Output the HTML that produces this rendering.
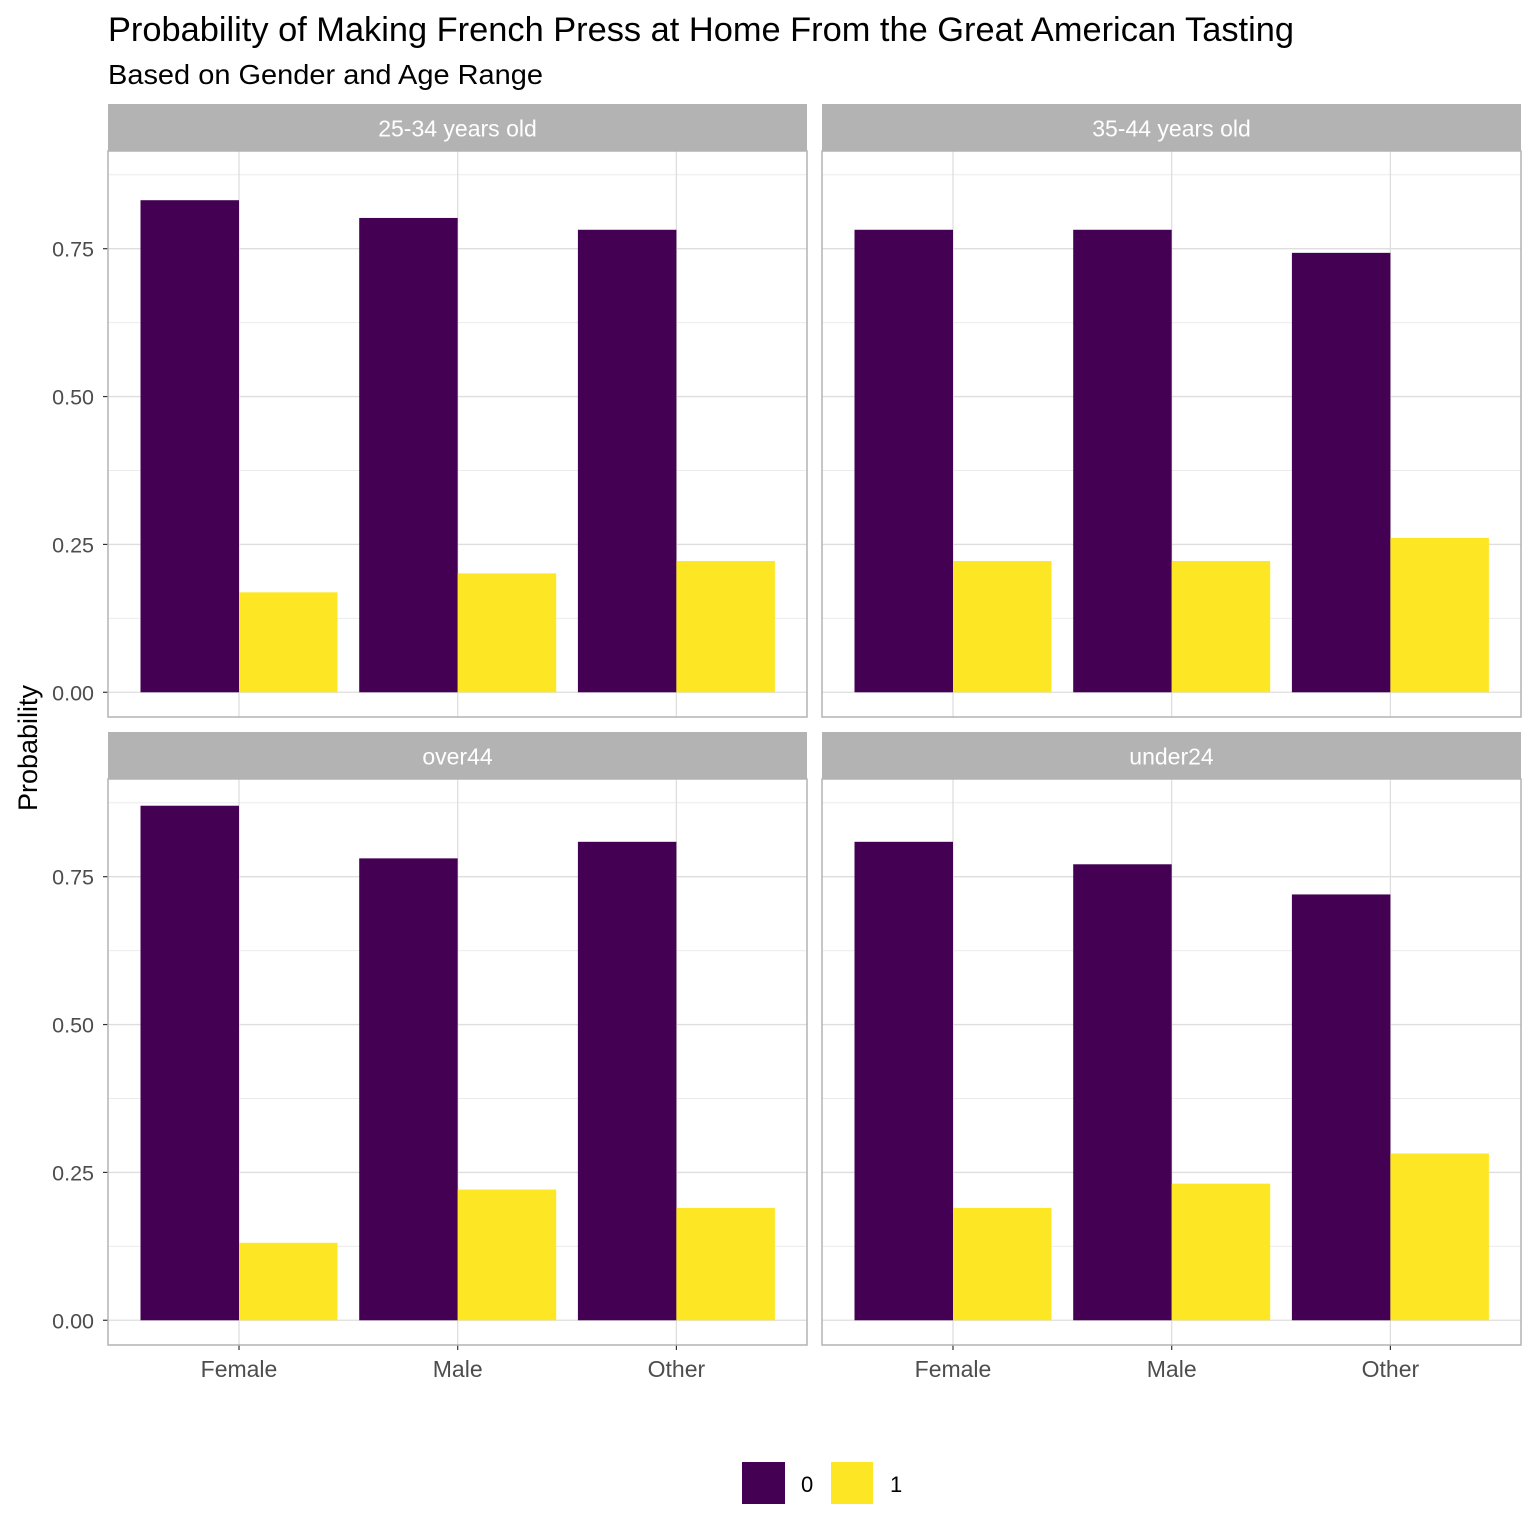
<!DOCTYPE html>
<html><head><meta charset="utf-8">
<style>
html,body{margin:0;padding:0;background:#fff;}
svg{display:block;font-family:"Liberation Sans",Arial,sans-serif;}
</style></head>
<body>
<svg id="chart" width="1536" height="1536" viewBox="0 0 1536 1536" xmlns="http://www.w3.org/2000/svg">
<rect width="1536" height="1536" fill="#fff"/>
<text x="108" y="41" font-size="34" textLength="1186" lengthAdjust="spacingAndGlyphs" fill="#000">Probability of Making French Press at Home From the Great American Tasting</text>
<text x="108" y="84" font-size="28" textLength="435" lengthAdjust="spacingAndGlyphs" fill="#000">Based on Gender and Age Range</text>
<text transform="translate(37,748) rotate(-90)" text-anchor="middle" font-size="27" fill="#000">Probability</text>
<g id="panels"></g>
<g>
<rect x="742" y="1462" width="43" height="42" fill="#440154"/>
<text x="801" y="1492" font-size="22" fill="#000">0</text>
<rect x="831" y="1462" width="42" height="42" fill="#FDE725"/>
<text x="890" y="1492" font-size="22" fill="#000">1</text>
</g>
</svg>
<script>
const panelTitles = ["25-34 years old","35-44 years old","over44","under24"];
const categories = ["Female","Male","Other"];
const series0 = [[0.832,0.802,0.782],[0.782,0.782,0.743],[0.870,0.781,0.809],[0.809,0.771,0.720]];
const series1 = [[0.169,0.201,0.222],[0.222,0.222,0.261],[0.131,0.221,0.190],[0.190,0.231,0.282]];
const yTicks = [0,0.25,0.5,0.75];
const yTickLabels = ["0.00","0.25","0.50","0.75"];
const yMinor = [0.125,0.375,0.625,0.875];

const NS="http://www.w3.org/2000/svg";
const g=document.getElementById('panels');
function mk(tag,attrs,parent){const e=document.createElementNS(NS,tag);for(const k in attrs)e.setAttribute(k,attrs[k]);(parent||g).appendChild(e);return e;}
const layout=[{x:108,y:104},{x:822,y:104},{x:108,y:732},{x:822,y:732}];
const PW=699, SH=47, PH=566, YMIN=-0.0435, YMAX=0.9135;
panelTitles.forEach((t,p)=>{
  const L=layout[p], top=L.y+SH, bot=top+PH;
  const ys=v=>bot+1-(v-YMIN)/(YMAX-YMIN)*PH;
  const pg=mk('g',{});
  
  
  const strip=mk('rect',{x:L.x,y:L.y,width:PW,height:SH,fill:'#b3b3b3'},pg);
  
  
  const st=mk('text',{x:L.x+PW/2,y:L.y+SH/2+9,'text-anchor':'middle','font-size':'23',fill:'#fff'},pg);
  st.textContent=t;
  
  
  yMinor.forEach(v=>{const l=mk('line',{x1:L.x,x2:L.x+PW,y1:ys(v),y2:ys(v),stroke:'#ebebeb','stroke-width':1},pg);});
  yTicks.forEach((v,i)=>{const l=mk('line',{x1:L.x,x2:L.x+PW,y1:ys(v),y2:ys(v),stroke:'#dedede','stroke-width':1.3},pg);
    if(L.x<500){const tx=mk('text',{x:L.x-14,y:ys(v)+8,'text-anchor':'end','font-size':'21.5',fill:'#4d4d4d'},pg);tx.textContent=yTickLabels[i];
      mk('line',{x1:L.x-5,x2:L.x,y1:ys(v),y2:ys(v),stroke:'#333','stroke-width':1.2},pg);}
  });
  const bw=98.5;
  categories.forEach((c,i)=>{
    const cx=L.x+131+i*218.7;
    const vl=mk('line',{x1:cx,x2:cx,y1:top,y2:bot,stroke:'#dedede','stroke-width':1.3},pg);
    
    
    const b0=mk('rect',{x:cx-bw,y:ys(series0[p][i]),width:bw,height:ys(0)-ys(series0[p][i]),fill:'#440154'},pg);
    
    
    const b1=mk('rect',{x:cx,y:ys(series1[p][i]),width:bw,height:ys(0)-ys(series1[p][i]),fill:'#FDE725'},pg);
    
    
    if(p>=2){const tx=mk('text',{x:cx,y:bot+32,'text-anchor':'middle','font-size':'23',fill:'#4d4d4d'},pg);tx.textContent=c;
      mk('line',{x1:cx,x2:cx,y1:bot,y2:bot+5,stroke:'#333','stroke-width':1.2},pg);}
  });
  const bd=mk('rect',{x:L.x,y:top,width:PW,height:PH,fill:'none',stroke:'#b3b3b3','stroke-width':1.5},pg);
  
  
});
</script>
</body></html>
